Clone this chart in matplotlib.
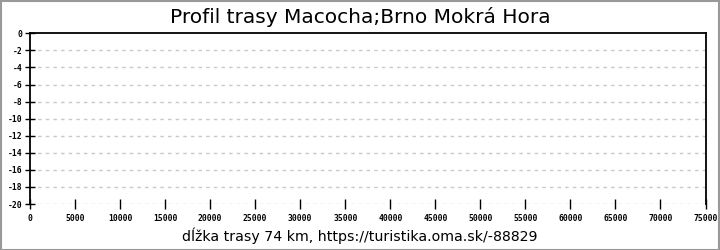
import matplotlib
matplotlib.use("Agg")
import matplotlib.pyplot as plt
from matplotlib.patches import Rectangle

# route profile (empty in the reference: no elevation points drawn)
distance = []
elevation = []

x_ticks = [0, 5000, 10000, 15000, 20000, 25000, 30000, 35000, 40000,
           45000, 50000, 55000, 60000, 65000, 70000, 75000]
y_ticks = [0, -2, -4, -6, -8, -10, -12, -14, -16, -18, -20]

title = "Profil trasy Macocha;Brno Mokrá Hora"
xlabel = "dĺžka trasy 74 km, https://turistika.oma.sk/-88829"

fig = plt.figure(figsize=(7.2, 2.5), dpi=100)
ax = fig.add_axes([30 / 720, 1 - 204 / 250, 675.5 / 720, (204 - 33.3) / 250])

ax.plot(distance, elevation, color="#0000ff", linewidth=1)

ax.set_xlim(x_ticks[0], x_ticks[-1])
ax.set_ylim(y_ticks[-1], y_ticks[0])
ax.set_xticks(x_ticks)
ax.set_yticks(y_ticks)
ax.set_xticklabels([str(v) for v in x_ticks])
ax.set_yticklabels([str(v) for v in y_ticks])

for lab in ax.get_xticklabels() + ax.get_yticklabels():
    lab.set_family("DejaVu Sans Mono")
    lab.set_fontweight("bold")
    lab.set_fontsize(5.8)

ax.tick_params(axis="y", direction="inout", length=7.2, width=1, pad=2)
ax.tick_params(axis="x", direction="inout", length=6.5, width=1, pad=4)

# dotted horizontal grid, skip the top edge (covered by the spine)
for v in y_ticks[1:]:
    ax.axhline(v, color="#c8c8c8", linewidth=1, linestyle=(0, (2.5, 3)), zorder=0)

ax.spines["bottom"].set_visible(False)
for s in ["left", "right", "top"]:
    ax.spines[s].set_linewidth(1.3)

fig.text(0.5, 1 - 17 / 250, title, ha="center", va="center", fontsize=14.5)
fig.text(0.5, 1 - 236 / 250, xlabel, ha="center", va="center", fontsize=10.2)

# grey frame round the whole image
fig.patches.append(Rectangle((0.001, 0.002), 0.997, 0.995, transform=fig.transFigure,
                             fill=False, edgecolor="#999999", linewidth=1.5))

fig.savefig("out.png", dpi=100)
